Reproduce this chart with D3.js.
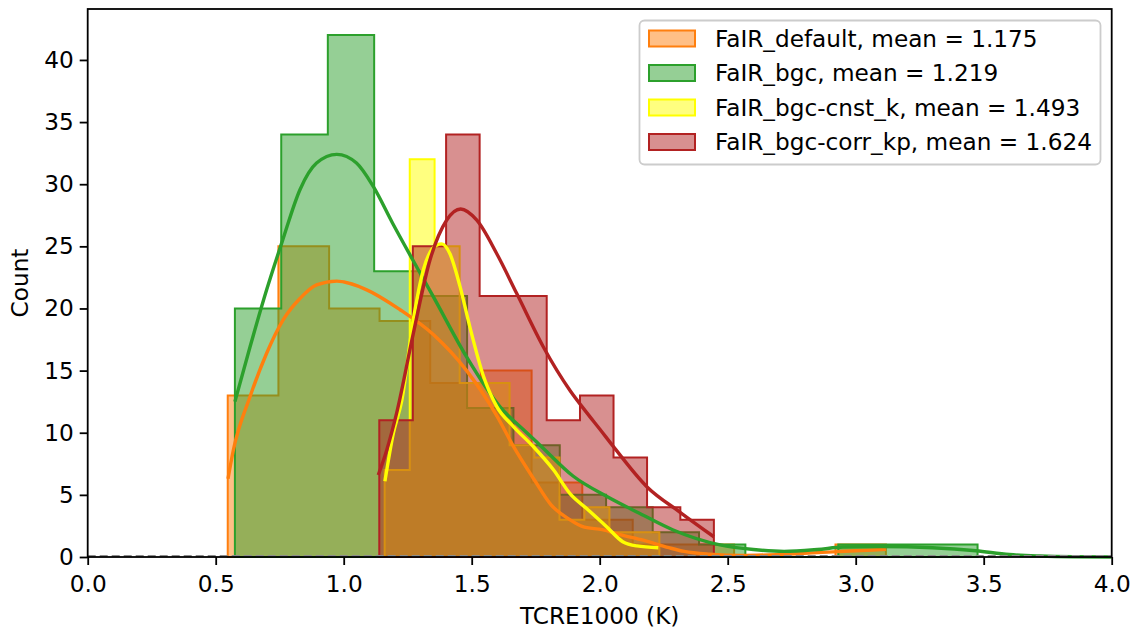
<!DOCTYPE html>
<html>
<head>
<meta charset="utf-8">
<script src="https://cdn.jsdelivr.net/npm/d3@7"></script>
<style>
  body { margin: 0; background: #fff; }
  svg text { font-family: "DejaVu Sans", sans-serif; fill: #000; }
</style>
</head>
<body>
<svg id="chart" width="1140" height="631"></svg>
<script>
// bin edges (K) and counts per ensemble
var defaultEdges = [0.547, 0.745, 0.943, 1.140, 1.338, 1.536, 1.734, 1.932, 2.129, 2.327, 2.525, 2.723, 2.921, 3.118];
var defaultCounts = [13, 25, 20, 19, 14, 15, 6, 3, 1, 1, 0, 0, 1];

var bgcEdges = [0.575, 0.756, 0.938, 1.119, 1.300, 1.482, 1.663, 1.844, 2.025, 2.207, 2.388, 2.569, 2.751, 2.932, 3.113, 3.295, 3.476];
var bgcCounts = [20, 34, 42, 23, 21, 12, 9, 5, 4, 2, 1, 0, 0, 1, 1, 1];

var cnstEdges = [1.160, 1.258, 1.355, 1.453, 1.550, 1.648, 1.745, 1.843, 1.940, 2.038, 2.135, 2.233];
var cnstCounts = [7, 32, 25, 14, 14, 9, 8, 3, 4, 2, 2];

var corrEdges = [1.139, 1.270, 1.400, 1.531, 1.662, 1.793, 1.923, 2.054, 2.185, 2.315, 2.446];
var corrCounts = [11, 25, 34, 21, 21, 11, 13, 8, 4, 3];

// kde curves, [TCRE, count] pairs
var defaultKde = [[0.548, 6.3], [0.569, 8.6], [0.634, 12.9], [0.699, 16.4], [0.764, 19.1], [0.829, 20.8],
  [0.894, 21.9], [0.973, 22.2], [1.09, 21.5], [1.22, 19.9], [1.35, 17.9], [1.48, 15.0], [1.60, 11.3],
  [1.663, 8.9], [1.745, 6.2], [1.81, 4.2], [1.88, 3.05], [1.94, 2.4], [2.01, 2.2], [2.08, 1.8],
  [2.17, 1.35], [2.27, 0.75], [2.33, 0.45], [2.43, 0.22], [2.55, 0.12], [2.7, 0.2], [2.85, 0.35],
  [3.0, 0.5], [3.118, 0.62]];
var bgcKde = [[0.575, 12.5], [0.634, 16.9], [0.699, 21.5], [0.76, 25.4], [0.83, 29.6], [0.894, 31.7],
  [0.973, 32.4], [1.05, 31.7], [1.116, 29.8], [1.19, 26.9], [1.27, 23.9], [1.35, 20.95], [1.48, 16.1],
  [1.61, 12.1], [1.715, 10.0], [1.767, 9.0], [1.897, 6.5], [2.03, 4.85], [2.157, 3.5], [2.287, 2.17],
  [2.47, 0.97], [2.6, 0.6], [2.72, 0.45], [2.85, 0.6], [2.95, 0.8], [3.1, 0.85], [3.3, 0.75],
  [3.47, 0.5], [3.6, 0.2], [3.72, 0.08], [3.85, 0.02], [4.0, 0.0]];
var cnstKde = [[1.161, 6.1], [1.194, 9.96], [1.227, 12.6], [1.272, 19.1], [1.311, 23.1], [1.363, 25.1],
  [1.383, 25.2], [1.415, 24.4], [1.454, 21.8], [1.493, 18.5], [1.545, 14.6], [1.598, 12.1], [1.663, 10.5],
  [1.74, 8.9], [1.82, 7.0], [1.884, 5.1], [1.949, 3.9], [2.027, 2.44], [2.09, 1.23], [2.145, 0.89],
  [2.229, 0.75]];
var corrKde = [[1.135, 6.6], [1.168, 8.6], [1.207, 11.6], [1.272, 18.0], [1.337, 23.9], [1.402, 27.1],
  [1.457, 28.0], [1.52, 27.1], [1.598, 24.4], [1.676, 21.2], [1.78, 16.9], [1.884, 13.4],
  [1.95, 11.6], [2.0, 10.3], [2.053, 8.9], [2.184, 5.66], [2.314, 3.6], [2.446, 1.63]];

var labels = ['FaIR_default, mean = 1.175', 'FaIR_bgc, mean = 1.219',
  'FaIR_bgc-cnst_k, mean = 1.493', 'FaIR_bgc-corr_kp, mean = 1.624'];
var colors = ['#ff7f0e', '#2ca02c', '#ffff00', '#b22222'];

var xTicks = [0, 0.5, 1.0, 1.5, 2.0, 2.5, 3.0, 3.5, 4.0];
var yTicks = [0, 5, 10, 15, 20, 25, 30, 35, 40];

var margin = {top: 9, left: 87.7},
    width = 1024,
    height = 548,
    fontSize = '23.2px';

var svg = d3.select('#chart');
var g = svg.append('g').attr('transform', 'translate(' + margin.left + ',' + margin.top + ')');

var x = d3.scaleLinear().domain([0, 4]).range([0, width]);
var y = d3.scaleLinear().domain([0, 44.1]).range([height, 0]);

var series = [
  {edges: defaultEdges, counts: defaultCounts, kde: defaultKde},
  {edges: bgcEdges, counts: bgcCounts, kde: bgcKde},
  {edges: cnstEdges, counts: cnstCounts, kde: cnstKde},
  {edges: corrEdges, counts: corrCounts, kde: corrKde}
];

var stepArea = d3.area()
  .x(function(d) { return x(d[0]); })
  .y0(y(0))
  .y1(function(d) { return y(d[1]); })
  .curve(d3.curveStepAfter);

// fills (matplotlib puts all patches below the lines)
series.forEach(function(s, i) {
  var pts = s.edges.map(function(e, j) {
    return [e, s.counts[Math.min(j, s.counts.length - 1)]];
  });
  g.append('path')
    .attr('d', stepArea(pts))
    .attr('fill', colors[i])
    .attr('fill-opacity', 0.5)
    .attr('stroke', colors[i])
    .attr('stroke-width', 2)
    .attr('stroke-linejoin', 'miter');
});

var kdeLine = d3.line()
  .x(function(d) { return x(d[0]); })
  .y(function(d) { return y(d[1]); })
  .curve(d3.curveMonotoneX);

series.forEach(function(s, i) {
  g.append('path')
    .attr('d', kdeLine(s.kde))
    .attr('fill', 'none')
    .attr('stroke', colors[i])
    .attr('stroke-width', 3.4)
    .attr('stroke-linecap', 'butt');
});

// dashed zero line
g.append('line')
  .attr('x1', x(0)).attr('x2', x(4))
  .attr('y1', y(0) - 1).attr('y2', y(0) - 1)
  .attr('stroke', '#8c8c8c')
  .attr('stroke-width', 2)
  .attr('stroke-dasharray', '8,4');

// axes
var xAxis = d3.axisBottom(x).tickValues(xTicks).tickFormat(d3.format('.1f')).tickSizeOuter(0).tickSize(8).tickPadding(6);
var yAxis = d3.axisLeft(y).tickValues(yTicks).tickSizeOuter(0).tickSize(8).tickPadding(6);

var gx = g.append('g').attr('transform', 'translate(0,' + height + ')').call(xAxis);
var gy = g.append('g').call(yAxis);
[gx, gy].forEach(function(a) {
  a.select('.domain').remove();
  a.selectAll('.tick line').attr('stroke', '#000').attr('stroke-width', 1.8);
  a.selectAll('.tick text').style('font-size', fontSize).style('font-family', '"DejaVu Sans", sans-serif');
});
gx.selectAll('.tick text').attr('dy', '0.92em');

// frame
g.append('rect')
  .attr('x', 0).attr('y', 0).attr('width', width).attr('height', height)
  .attr('fill', 'none').attr('stroke', '#000').attr('stroke-width', 1.8);

// axis labels
g.append('text')
  .attr('x', width / 2).attr('y', height + 67)
  .attr('text-anchor', 'middle')
  .style('font-size', fontSize)
  .text('TCRE1000 (K)');
g.append('text')
  .attr('transform', 'translate(' + (-60) + ',' + (height / 2) + ') rotate(-90)')
  .attr('text-anchor', 'middle')
  .style('font-size', fontSize)
  .text('Count');

// legend
var lg = svg.append('g').attr('transform', 'translate(639.5,20.5)');
lg.append('rect')
  .attr('width', 461).attr('height', 144)
  .attr('rx', 5).attr('ry', 5)
  .attr('fill', '#fff').attr('fill-opacity', 0.8)
  .attr('stroke', '#cccccc').attr('stroke-width', 1.8);
labels.forEach(function(lab, i) {
  var cy = 18 + i * 34.5;
  lg.append('rect')
    .attr('x', 9.5).attr('y', cy - 8)
    .attr('width', 46).attr('height', 16)
    .attr('fill', colors[i]).attr('fill-opacity', 0.5)
    .attr('stroke', colors[i]).attr('stroke-width', 2);
  lg.append('text')
    .attr('x', 75.5).attr('y', cy)
    .attr('dy', '0.36em')
    .style('font-size', fontSize)
    .text(lab);
});
</script>
</body>
</html>
